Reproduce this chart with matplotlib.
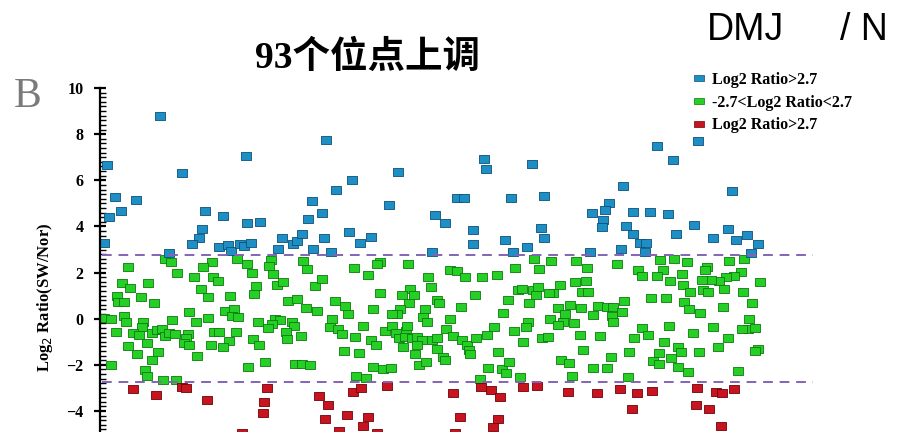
import matplotlib
matplotlib.use("Agg")
import matplotlib.pyplot as plt
from matplotlib.path import Path
from matplotlib.lines import Line2D
from matplotlib.ticker import MultipleLocator

# site positions (x) and log2 ratios (y) for each class
up_x = [60, 7, 146, 82, 15, 36, 9, 21, 105, 123, 147, 160, 4, 102, 99, 92, 119,
        128, 131, 140, 144, 151, 69, 182, 178, 193, 197, 202, 208, 212, 213, 222,
        224, 226, 231, 236, 252, 249, 260, 271, 289, 298, 335, 345, 332, 357, 364,
        384, 386, 373, 373, 411, 405, 413, 427, 432, 444, 441, 444, 557, 573, 598,
        523, 632, 509, 505, 492, 503, 502, 533, 550, 568, 526, 533, 540, 546, 521,
        490, 545, 576, 594, 613, 628, 636, 647, 658, 651]
up_y = [8.77, 6.65, 7.06, 6.32, 5.28, 5.14, 4.42, 4.66, 4.66, 4.46, 4.13, 4.20,
        3.30, 3.88, 3.48, 3.23, 3.09, 3.19, 2.94, 3.26, 3.16, 3.30, 2.86, 3.52,
        3.02, 3.26, 3.38, 3.69, 4.32, 5.11, 3.02, 4.57, 3.50, 7.76, 2.89, 5.58,
        6.00, 3.75, 3.30, 3.55, 4.95, 6.36, 4.49, 4.17, 2.89, 5.24, 5.24, 6.94,
        6.51, 3.84, 3.26, 5.24, 3.43, 2.91, 3.12, 6.70, 5.34, 3.95, 3.50, 7.48,
        6.90, 7.71, 5.76, 5.54, 5.02, 4.73, 4.59, 4.30, 3.98, 4.62, 4.62, 4.53,
        4.03, 3.67, 3.29, 3.29, 3.02, 2.90, 2.89, 3.69, 4.06, 3.48, 3.88, 3.43,
        3.65, 3.26, 2.86]

mid_x = [65, 71, 28, 112, 103, 137, 147, 152, 171, 169, 173, 203, 207, 77, 94,
         113, 118, 22, 30, 48, 101, 108, 130, 156, 154, 177, 183, 215, 17, 18, 24,
         41, 54, 89, 125, 134, 132, 138, 188, 197, 206, 217, 4, 11, 24, 26, 43, 42,
         72, 96, 108, 158, 175, 180, 172, 168, 192, 194, 16, 33, 39, 52, 57, 62,
         65, 69, 75, 88, 86, 84, 89, 114, 119, 136, 129, 123, 111, 153, 159, 186,
         187, 201, 28, 47, 58, 37, 52, 97, 11, 148, 165, 195, 202, 210, 45, 47, 63,
         76,
         280, 277, 308, 254, 268, 222, 328, 331, 350, 357, 365, 382, 397, 415, 434,
         439, 280, 310, 302, 314, 309, 337, 339, 375, 408, 418, 422, 433, 438, 436,
         429, 235, 245, 248, 273, 300, 297, 292, 325, 323, 327, 361, 350, 403, 428,
         426, 232, 230, 238, 242, 263, 255, 271, 276, 285, 292, 296, 299, 306, 307,
         305, 312, 317, 322, 317, 303, 332, 337, 346, 353, 362, 367, 369, 370, 376,
         387, 394, 414, 423, 442, 244, 259, 315, 319, 326, 337, 343, 345, 273, 283,
         291, 256, 266, 398, 388, 402, 409, 406, 380, 420,
         451, 476, 487, 517, 538, 542, 560, 574, 587, 563, 557, 582, 607, 605, 629,
         644, 641, 634, 626, 619, 611, 602, 570, 583, 660, 460, 475, 486, 453, 449,
         482, 488, 590, 603, 608, 624, 643, 524, 551, 566, 584, 589, 623, 652, 458,
         470, 481, 498, 507, 513, 522, 493, 512, 513, 465, 450, 463, 458, 474, 600,
         649, 648, 655, 642, 613, 569, 542, 548, 534, 500, 480, 448, 593, 628, 564,
         578, 581, 599, 618, 658, 655, 483, 511, 529, 559, 571, 553, 559, 461, 469,
         493, 507, 578, 588, 638, 472, 528]
mid_y = [2.61, 2.44, 2.25, 2.44, 2.25, 2.58, 2.35, 2.00, 2.54, 2.28, 1.94, 2.50,
         2.15, 1.96, 1.82, 1.79, 1.65, 1.53, 1.35, 1.53, 1.29, 0.92, 0.98, 1.43,
         1.05, 1.48, 1.60, 1.43, 1.00, 0.74, 0.71, 0.95, 0.66, 0.27, 0.35, 0.40,
         0.12, 0.09, 0.77, 0.85, 0.45, 0.35, 0.01, -0.01, 0.13, -0.13, -0.16,
         -0.35, -0.06, -0.16, 0.04, -0.13, -0.03, -0.06, -0.25, -0.39, -0.13,
         -0.32, -0.56, -0.61, -0.71, -0.64, -0.49, -0.45, -0.74, -0.61, -0.66,
         -0.66, -0.82, -1.04, -1.14, -0.59, -0.59, -0.59, -0.95, -1.24, -1.14,
         -0.88, -1.14, -0.56, -0.89, -0.74, -1.18, -1.07, -1.43, -1.55, -1.79,
         -1.60, -2.00, -2.08, -1.89, -1.96, -1.96, -2.00, -2.22, -2.47, -2.65,
         -2.65,
         2.47, 2.37, 2.39, 2.18, 1.89, 1.72, 1.79, 1.39, 2.11, 2.08, 1.79, 1.82,
         1.89, 2.18, 2.58, 2.15, 1.13, 1.27, 1.03, 1.03, 0.69, 0.81, 0.66, 1.03,
         0.81, 1.24, 1.27, 1.24, 1.39, 1.03, 0.69, 0.78, 0.56, 0.20, 0.40, 0.40,
         0.20, 0.20, 0.40, 0.09, -0.16, 0.49, -0.01, 0.23, -0.13, -0.38, -0.03,
         -0.38, -0.45, -0.66, -0.30, -0.78, -0.92, -1.14, -0.52, -0.30, -0.64,
         -0.85, -0.52, -0.30, -0.78, -0.82, -0.78, -0.92, -1.14, -1.24, -0.92,
         -0.82, -0.46, -0.74, -0.92, -1.14, -1.36, -1.53, -0.82, -0.71, -0.35,
         -0.52, -1.00, -0.85, -1.39, -1.50, -1.55, -2.00, -1.86, -1.33, -1.65,
         -1.79, -2.08, -2.19, -2.12, -2.47, -2.58, -1.46, -2.12, -2.18, -1.89,
         -2.34, -2.61, -2.51,
         2.50, 2.50, 2.21, 2.39, 2.11, 1.86, 2.54, 2.57, 2.44, 2.11, 1.86, 1.94,
         2.25, 2.11, 2.50, 2.61, 2.03, 1.86, 1.82, 1.65, 1.68, 1.68, 1.65, 1.46,
         1.57, 1.46, 1.57, 1.63, 1.10, 1.10, 1.14, 1.14, 1.14, 1.24, 1.17, 1.29,
         1.17, 0.77, 0.88, 0.88, 0.71, 0.40, 0.52, 0.69, 0.45, 0.59, 0.45, 0.56,
         0.52, 0.52, 0.27, 0.16, 0.12, -0.16, 0.20, -0.01, -0.13, -0.27, -0.20,
         0.26, -0.01, -0.46, -0.42, -0.46, -0.38, -0.32, -0.39, -0.71, -0.82,
         -0.74, -0.71, -0.78, -0.61, -0.82, -1.03, -1.21, -1.46, -1.43, -1.24,
         -1.31, -1.40, -1.36, -1.68, -1.43, -1.47, -1.72, -1.83, -1.96, -1.79,
         -1.90, -2.12, -2.12, -2.08, -2.29, -2.25, -2.47, -2.51]

down_x = [33, 56, 82, 86, 107, 167, 164, 163, 142, 219, 228, 225, 247, 239, 253,
          261, 268, 263, 277, 287, 353, 360, 355, 391, 400, 398, 393, 423, 437,
          381, 468, 497, 520, 537, 552, 532, 597, 616, 622, 634, 596, 609, 621]
down_y = [-3.04, -3.30, -2.97, -2.99, -3.52, -3.02, -3.59, -4.10, -4.96, -3.35,
          -3.74, -4.34, -4.17, -4.85, -3.16, -2.99, -4.27, -4.63, -4.96, -2.91,
          -3.23, -4.27, -4.96, -3.09, -3.41, -4.34, -4.68, -2.94, -2.91, -2.95,
          -3.16, -3.23, -3.04, -3.23, -3.12, -3.93, -3.02, -3.19, -3.23, -3.06,
          -3.74, -3.93, -4.63]

threshold = 2.75
labels = ["Log2 Ratio>2.7", "-2.7<Log2 Ratio<2.7", "Log2 Ratio>2.7"]

# flat rectangular marker, wider than tall
rect = Path([(-1, -0.7), (1, -0.7), (1, 0.7), (-1, 0.7), (-1, -0.7)],
            [Path.MOVETO, Path.LINETO, Path.LINETO, Path.LINETO, Path.CLOSEPOLY])

serif = ["Liberation Serif", "DejaVu Serif"]

fig = plt.figure(figsize=(9.21, 4.32), dpi=100)
ax = fig.add_axes([100 / 921, 0, 715 / 921, 344 / 432])

styles = [("#1e8fc4", "#0b4f77"), ("#25cf25", "#0b7a0b"), ("#c8141f", "#6e0008")]
for (xs, ys), (fc, ec) in zip([(mid_x, mid_y), (up_x, up_y), (down_x, down_y)],
                              [styles[1], styles[0], styles[2]]):
    ax.scatter(xs, ys, marker=rect, s=52, facecolor=fc, edgecolor=ec,
               linewidth=0.6, zorder=2)

for t in (threshold, -threshold):
    ax.plot([2, 713], [t, t], color="#8464b4", lw=1.4, dashes=(5, 3.5), zorder=3)

ax.set_xlim(0, 715)
ax.set_ylim(-4.91, 10)
for side in ("top", "right", "bottom"):
    ax.spines[side].set_visible(False)
ax.spines["left"].set_linewidth(1.6)
ax.set_xticks([])
ax.yaxis.set_major_locator(MultipleLocator(2))
ax.yaxis.set_minor_locator(MultipleLocator(0.2))
ax.tick_params(axis="y", which="major", direction="inout", length=8, width=1.6,
               pad=8)
ax.tick_params(axis="y", which="minor", direction="in", length=4, width=1.0)
for lab in ax.get_yticklabels():
    lab.set_fontfamily(serif)
    lab.set_fontweight("bold")
    lab.set_fontsize(11.5)

fig.text(45 / 921, 1 - 297 / 432, "Log$_2$ Ratio(SW/Nor)", rotation=90,
         ha="center", va="center", fontsize=12, fontweight="bold",
         family=serif)
fig.text(28 / 921, 1 - 97 / 432, "B", ha="center", va="center", fontsize=30,
         color="#7a7a7a", family=serif)
fig.text(367 / 921, 1 - 58 / 432, "93个位点上调", ha="center", va="center",
         fontsize=27, fontweight="bold",
         family=["Liberation Serif", "Noto Sans CJK SC"])
fig.text(707 / 921, 1 - 30 / 432, "DMJ", ha="left", va="center", fontsize=27,
         family=["Liberation Sans", "DejaVu Sans"])
fig.text(840 / 921, 1 - 30 / 432, "/ N", ha="left", va="center", fontsize=27,
         family=["Liberation Sans", "DejaVu Sans"])

handles = [Line2D([], [], ls="none", marker=rect, markersize=7,
                  markerfacecolor=fc, markeredgecolor=ec, markeredgewidth=0.5)
           for fc, ec in styles]
fig.legend(handles, labels, loc="upper left",
           bbox_to_anchor=(694 / 921, 1 - 72 / 432), frameon=False,
           prop={"family": serif, "weight": "bold", "size": 11.5},
           handlelength=0.6, handletextpad=0.5, labelspacing=0.42,
           borderpad=0, borderaxespad=0)

fig.savefig("out.png", dpi=100)
